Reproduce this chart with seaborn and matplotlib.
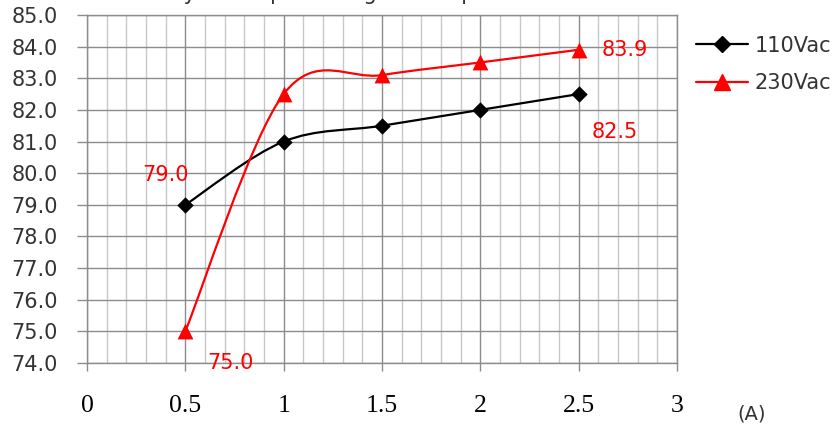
import matplotlib
matplotlib.use("Agg")
import matplotlib.pyplot as plt
from matplotlib.path import Path
from matplotlib.patches import PathPatch
from matplotlib.lines import Line2D
from matplotlib.ticker import MultipleLocator, FormatStrFormatter
import seaborn as sns
import pandas as pd

# data
current_a = [0.5, 1.0, 1.5, 2.0, 2.5]
eff_110vac = [79.0, 81.0, 81.5, 82.0, 82.5]
eff_230vac = [75.0, 82.5, 83.1, 83.5, 83.9]
series_names = ["110Vac", "230Vac"]
x_ticks = [0, 0.5, 1, 1.5, 2, 2.5, 3]
x_tick_labels = ["0", "0.5", "1", "1.5", "2", "2.5", "3"]

# value labels shown on the chart: (series index, point index, text)
value_labels = [(0, 0, "79.0"), (1, 0, "75.0"), (1, 4, "83.9"), (0, 4, "82.5")]
label_offsets_px = [(-20, 30), (45, -32), (46, 0), (36, -38)]


def smooth_path(xs, ys):
    """Excel-like smoothed line: cubic Bezier through each point (Catmull-Rom)."""
    pts = list(zip(xs, ys))
    verts = [pts[0]]
    codes = [Path.MOVETO]
    n = len(pts)
    for i in range(n - 1):
        p0 = pts[i - 1] if i > 0 else pts[i]
        p1 = pts[i]
        p2 = pts[i + 1]
        p3 = pts[i + 2] if i + 2 < n else pts[i + 1]
        c1 = (p1[0] + (p2[0] - p0[0]) / 6, p1[1] + (p2[1] - p0[1]) / 6)
        c2 = (p2[0] - (p3[0] - p1[0]) / 6, p2[1] - (p3[1] - p1[1]) / 6)
        verts += [c1, c2, p2]
        codes += [Path.CURVE4] * 3
    return Path(verts, codes)


sns.set_style("white")
plt.rcParams['font.family'] = 'DejaVu Sans'

fig = plt.figure(figsize=(8.37, 4.26), dpi=100)
ax = fig.add_axes([0.1039, 0.1479, 0.7049, 0.8169])

grid_dark = "#8c8c8c"
grid_light = "#c8c8c8"

ax.set_xlim(0, 3)
ax.set_ylim(74, 85)
ax.xaxis.set_major_locator(MultipleLocator(0.5))
ax.xaxis.set_minor_locator(MultipleLocator(0.1))
ax.yaxis.set_major_locator(MultipleLocator(1.0))
ax.yaxis.set_major_formatter(FormatStrFormatter("%.1f"))
ax.grid(which="minor", axis="x", color=grid_light, linewidth=1.0)
ax.grid(which="major", axis="both", color=grid_dark, linewidth=1.0)
ax.set_axisbelow(True)
for sp in ax.spines.values():
    sp.set_color(grid_dark)
    sp.set_linewidth(1.0)
    sp.set_visible(True)

ax.tick_params(axis="y", which="major", direction="out", length=7, width=1,
               color=grid_dark, labelsize=15, labelcolor="#333333", pad=14, left=True)
ax.tick_params(axis="x", which="major", direction="out", length=6, width=1,
               color=grid_dark, labelsize=18.5, labelcolor="black", pad=17, bottom=True)
ax.tick_params(axis="x", which="minor", length=0)
ax.set_xticks(x_ticks)
ax.set_xticklabels(x_tick_labels, family="Liberation Serif")

colors = ["black", "#ff0000"]
markers = ["D", "^"]
msizes = [70, 130]
all_series = [eff_110vac, eff_230vac]

for name, vals, col, mk, ms in zip(series_names, all_series, colors, markers, msizes):
    ax.add_patch(PathPatch(smooth_path(current_a, vals), facecolor="none",
                           edgecolor=col, linewidth=1.6, zorder=3))
    df = pd.DataFrame({"current": current_a, "eff": vals})
    sns.scatterplot(data=df, x="current", y="eff", ax=ax, marker=mk, s=ms,
                    color=col, edgecolor=col, linewidth=0, zorder=4, legend=False)

ax.set_xlabel("")
ax.set_ylabel("")

for (si, pi, txt), (dx, dy) in zip(value_labels, label_offsets_px):
    ax.annotate(txt, (current_a[pi], all_series[si][pi]), xytext=(dx, dy),
                textcoords="offset pixels", ha="center", va="center",
                fontsize=15, color="#ff0000", zorder=5)

handles = [Line2D([0], [0], color=c, marker=m, markersize=ms, linewidth=1.6)
           for c, m, ms in zip(colors, ["D", "^"], [8.2, 11])]
fig.legend(handles, series_names, loc="center left", bbox_to_anchor=(0.8315, 0.8486),
           frameon=False, fontsize=15, handlelength=2.5, handletextpad=0.3,
           labelspacing=0.85, borderpad=0, borderaxespad=0, labelcolor="#333333")

fig.text(752 / 837, 1 - 414 / 426, "(A)", ha="center", va="center",
         fontsize=14, color="#333333")

# title is clipped by the top of the image in the reference
fig.text(95 / 837, 1.0, "Efficiency vs Output Voltage at Output Current",
         ha="left", va="baseline", fontsize=15, color="#333333")

fig.savefig("out.png", dpi=100)
